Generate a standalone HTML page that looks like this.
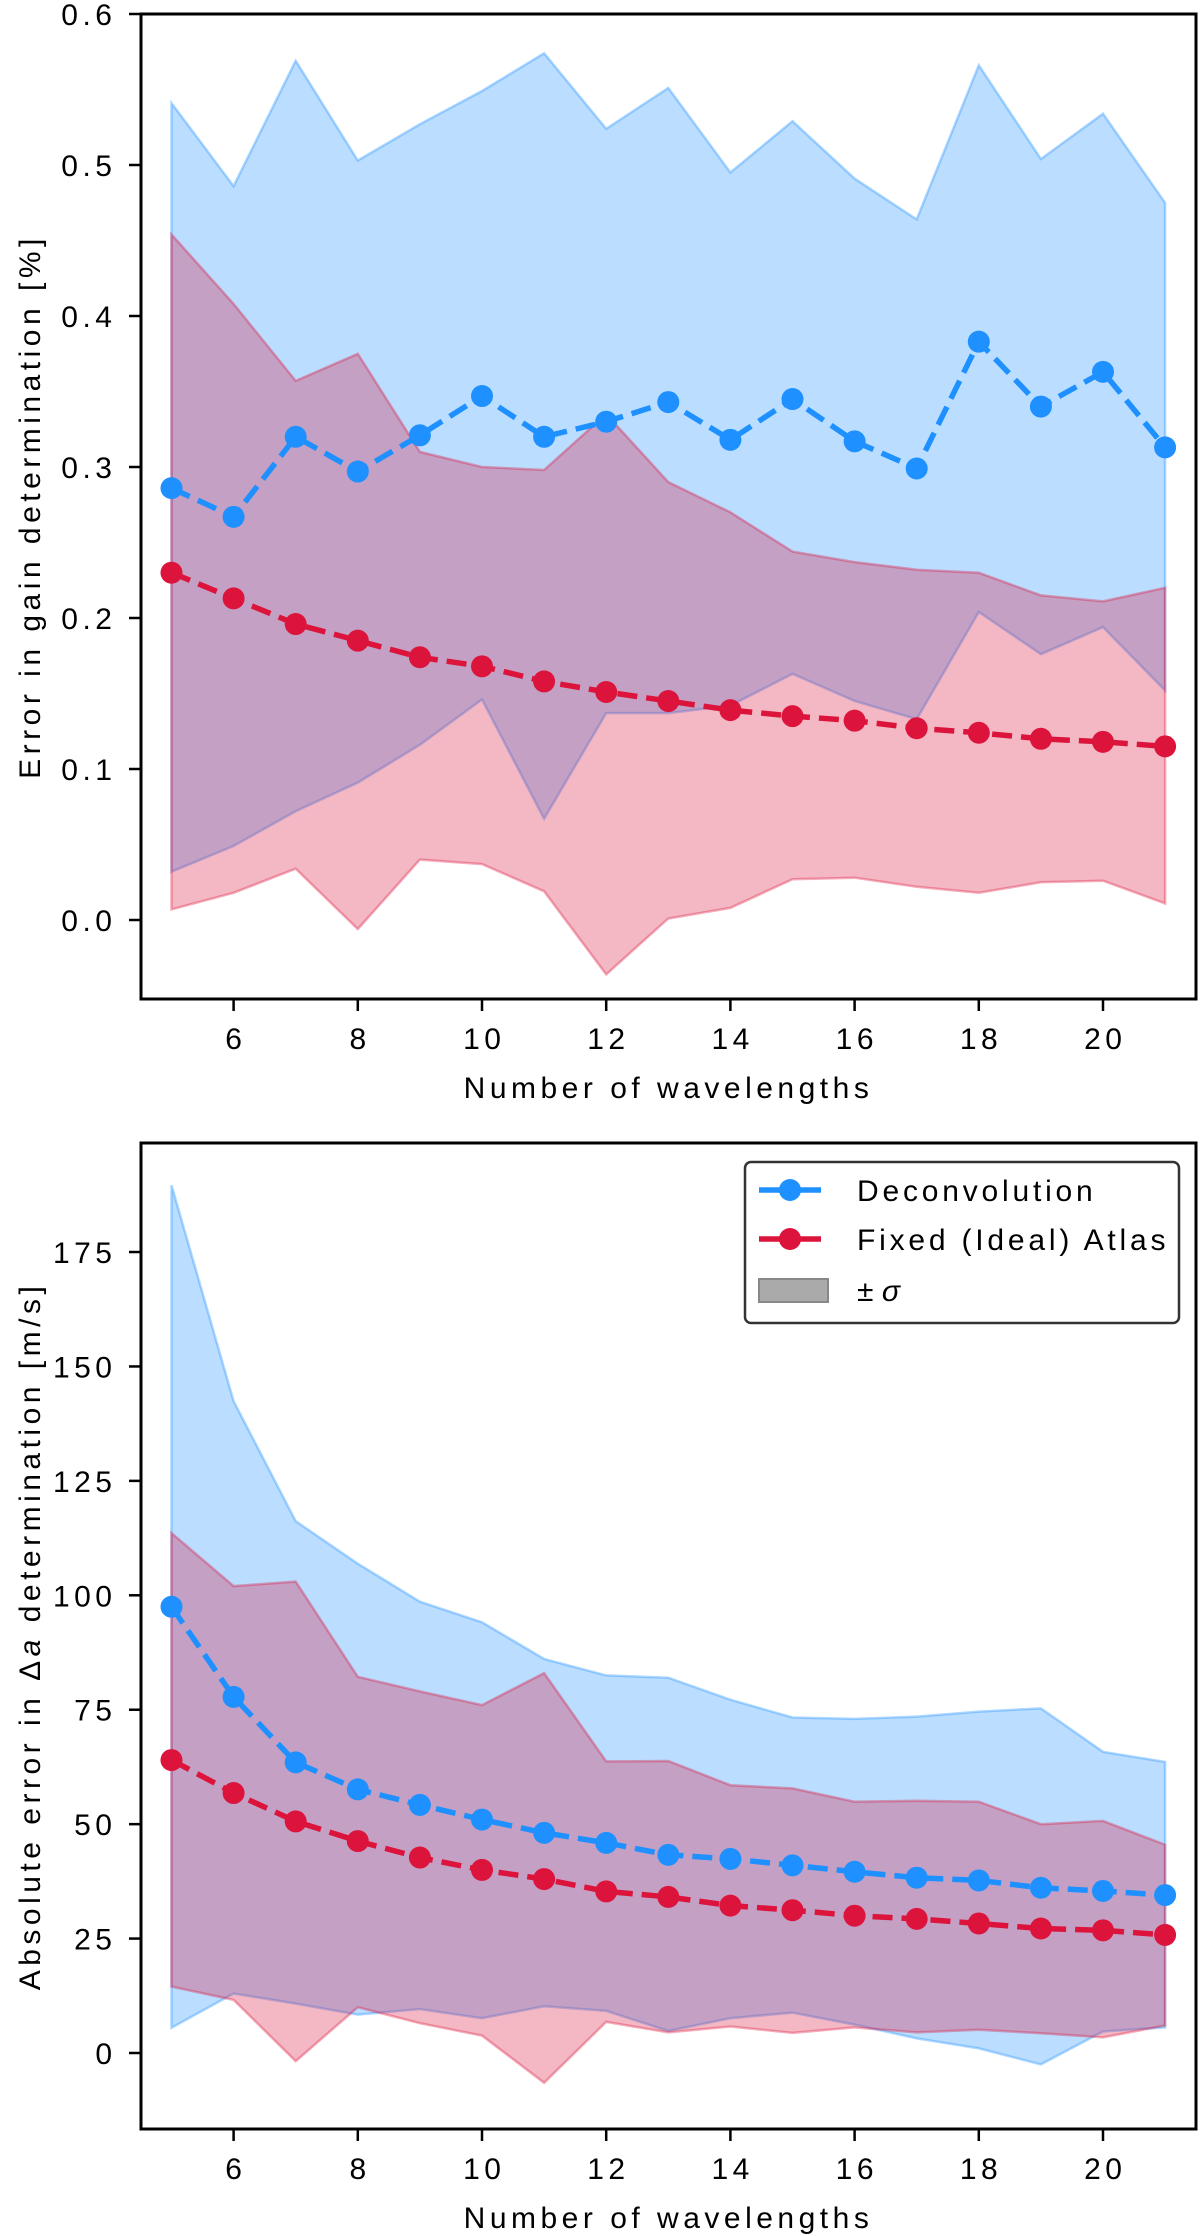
<!DOCTYPE html>
<html><head><meta charset="utf-8">
<style>
html,body{margin:0;padding:0;background:#fff;}
svg{display:block;font-family:"Liberation Sans","DejaVu Sans",sans-serif;}
</style></head>
<body>
<svg id="chart" width="1200" height="2236" viewBox="0 0 1200 2236" xmlns="http://www.w3.org/2000/svg"></svg>
<script>
const wavelengths = [5,6,7,8,9,10,11,12,13,14,15,16,17,18,19,20,21];
const gainDeconvMean = [0.286,0.267,0.320,0.297,0.321,0.347,0.320,0.330,0.343,0.318,0.345,0.317,0.299,0.383,0.340,0.363,0.313];
const gainDeconvUpper = [0.541,0.486,0.569,0.503,0.527,0.549,0.574,0.524,0.551,0.495,0.529,0.491,0.464,0.566,0.504,0.534,0.475];
const gainDeconvLower = [0.032,0.049,0.072,0.091,0.116,0.146,0.067,0.137,0.137,0.142,0.163,0.145,0.133,0.204,0.176,0.194,0.152];
const gainFixedMean = [0.230,0.213,0.196,0.185,0.174,0.168,0.158,0.151,0.145,0.139,0.135,0.132,0.127,0.124,0.120,0.118,0.115];
const gainFixedUpper = [0.454,0.408,0.357,0.375,0.310,0.300,0.298,0.335,0.290,0.270,0.244,0.237,0.232,0.230,0.215,0.211,0.220];
const gainFixedLower = [0.007,0.018,0.034,-0.006,0.040,0.037,0.019,-0.036,0.001,0.008,0.027,0.028,0.022,0.018,0.025,0.026,0.011];
const daDeconvMean = [97.5,77.8,63.5,57.6,54.2,51.0,48.1,45.9,43.3,42.4,41.0,39.6,38.3,37.7,36.1,35.4,34.5];
const daDeconvUpper = [189.6,142.4,116.2,106.9,98.6,94.1,86.1,82.5,82.0,77.2,73.3,73.0,73.5,74.6,75.3,65.8,63.6];
const daDeconvLower = [5.5,13.0,10.8,8.4,9.6,7.6,10.2,9.2,4.8,7.6,8.8,6.2,3.2,1.0,-2.5,4.7,5.6];
const daFixedMean = [64.0,56.8,50.6,46.3,42.7,40.0,38.0,35.3,34.1,32.2,31.2,30.0,29.3,28.3,27.2,26.8,25.8];
const daFixedUpper = [113.6,102.0,103.0,82.2,79.0,76.0,83.0,63.7,63.8,58.5,57.8,54.9,55.1,54.9,50.0,50.7,45.5];
const daFixedLower = [14.5,11.6,-1.8,10.0,6.5,3.8,-6.5,6.8,4.5,5.8,4.4,5.6,4.5,5.1,4.3,3.4,6.0];
const xTicks = [6,8,10,12,14,16,18,20];
const gainYTicks = [0.0,0.1,0.2,0.3,0.4,0.5,0.6];
const gainYTickLabels = ["0.0","0.1","0.2","0.3","0.4","0.5","0.6"];
const daYTicks = [0,25,50,75,100,125,150,175];
const daYTickLabels = ["0","25","50","75","100","125","150","175"];

const NS = "http://www.w3.org/2000/svg";
const svg = document.getElementById('chart');
const BLUE = "#1E90FF", RED = "#DC143C";
const FS = 30, LS = 4.5;

function mk(tag, attrs, parent){
  const e = document.createElementNS(NS, tag);
  for (const k in attrs) e.setAttribute(k, attrs[k]);
  (parent||svg).appendChild(e);
  return e;
}
function makeX(){ const x0=171.5, k=62.1; return v => x0 + (v-5)*k; }

function drawPanel(cfg){
  const g = mk('g',{});
  
  
  const sx = makeX();
  const sy = v => cfg.y0 - v*cfg.ky;
  const L=141, R=1196;
  function band(up, lo, col, nm){
    let d = '';
    wavelengths.forEach((w,i)=>{ d += (i?'L':'M') + sx(w).toFixed(1)+','+sy(up[i]).toFixed(1); });
    for(let i=wavelengths.length-1;i>=0;i--) d += 'L'+sx(wavelengths[i]).toFixed(1)+','+sy(lo[i]).toFixed(1);
    d += 'Z';
    const p = mk('path',{d:d, fill:col, 'fill-opacity':0.3, stroke:col, 'stroke-opacity':0.35, 'stroke-width':2.5}, g);
    
    
  }
  band(cfg.dU, cfg.dL, BLUE, 'deconvolution-sigma-band');
  band(cfg.fU, cfg.fL, RED, 'fixed-atlas-sigma-band');
  function series(mean, col, nm){
    const sg = mk('g',{}, g);
    
    
    const pts = wavelengths.map((w,i)=>sx(w).toFixed(1)+','+sy(mean[i]).toFixed(1)).join(' ');
    const pl = mk('polyline',{points:pts, fill:'none', stroke:col, 'stroke-width':5.5, 'stroke-dasharray':'20 9'}, sg);
    
    
    wavelengths.forEach((w,i)=>{
      const c = mk('circle',{cx:sx(w), cy:sy(mean[i]), r:11, fill:col}, sg);
      
      
    });
  }
  series(cfg.dM, BLUE, 'deconvolution-series');
  series(cfg.fM, RED, 'fixed-atlas-series');
  const fr = mk('rect',{x:L, y:cfg.top, width:R-L, height:cfg.bot-cfg.top, fill:'none', stroke:'#000', 'stroke-width':3}, g);
  
  
  xTicks.forEach(t=>{
    const x = sx(t);
    const tl = mk('line',{x1:x, x2:x, y1:cfg.bot, y2:cfg.bot+12, stroke:'#000', 'stroke-width':2.5}, g);
    
    
    const tx = mk('text',{x:x+LS/2, y:cfg.bot+50, 'font-size':FS, 'letter-spacing':LS, 'text-anchor':'middle', fill:'#000'}, g);
    tx.textContent = t;
    
    
  });
  cfg.yt.forEach((t,i)=>{
    const y = sy(t);
    const tl = mk('line',{x1:L-12, x2:L, y1:y, y2:y, stroke:'#000', 'stroke-width':2.5}, g);
    
    
    const tx = mk('text',{x:112+LS, y:y+11, 'font-size':FS, 'letter-spacing':LS, 'text-anchor':'end', fill:'#000'}, g);
    tx.textContent = cfg.ytl[i];
    
    
  });
  const xl = mk('text',{x:(L+R)/2, y:cfg.bot+99, 'font-size':FS, 'text-anchor':'middle', 'letter-spacing':LS, fill:'#000'}, g);
  xl.textContent = 'Number of wavelengths';
  
  
  const cy = (cfg.top+cfg.bot)/2;
  const yl = mk('text',{x:0, y:0, 'font-size':FS, 'text-anchor':'middle', 'letter-spacing':LS, fill:'#000', transform:'translate(40,'+cy+') rotate(-90)'}, g);
  yl.innerHTML = cfg.ylabel;
  
  
}

drawPanel({name:'gain-error-panel', top:14, bot:999, y0:920, ky:1510,
  dM:gainDeconvMean, dU:gainDeconvUpper, dL:gainDeconvLower,
  fM:gainFixedMean, fU:gainFixedUpper, fL:gainFixedLower,
  yt:gainYTicks, ytl:gainYTickLabels, ylabel:'Error in gain determination [%]'});
drawPanel({name:'da-error-panel', top:1143, bot:2129, y0:2053, ky:4.577,
  dM:daDeconvMean, dU:daDeconvUpper, dL:daDeconvLower,
  fM:daFixedMean, fU:daFixedUpper, fL:daFixedLower,
  yt:daYTicks, ytl:daYTickLabels, ylabel:'Absolute error in Δ<tspan font-style="italic">a</tspan> determination [m/s]'});

const lg = mk('g',{});


mk('rect',{x:745, y:1162, width:434, height:161, rx:6, fill:'#fff', stroke:'#333', 'stroke-width':2.5}, lg);
const entries = [
  {label:'Deconvolution', col:BLUE, y:1190, nm:'legend-entry-deconvolution'},
  {label:'Fixed (Ideal) Atlas', col:RED, y:1239, nm:'legend-entry-fixed-atlas'}
];
entries.forEach(e=>{
  const eg = mk('g',{}, lg);
  
  
  mk('line',{x1:759, x2:821, y1:e.y, y2:e.y, stroke:e.col, 'stroke-width':5.5}, eg);
  mk('circle',{cx:790, cy:e.y, r:11, fill:e.col}, eg);
  const t = mk('text',{x:857, y:e.y+11, 'font-size':FS, 'letter-spacing':3.8, fill:'#000'}, eg);
  t.textContent = e.label;
});
const sg = mk('g',{}, lg);


mk('rect',{x:759, y:1279, width:69, height:23, fill:'#aaa', stroke:'#888', 'stroke-width':2}, sg);
const st = mk('text',{x:857, y:1301, 'font-size':FS, fill:'#000'}, sg);
st.innerHTML = '± <tspan font-style="italic">σ</tspan>';
</script>
</body></html>
